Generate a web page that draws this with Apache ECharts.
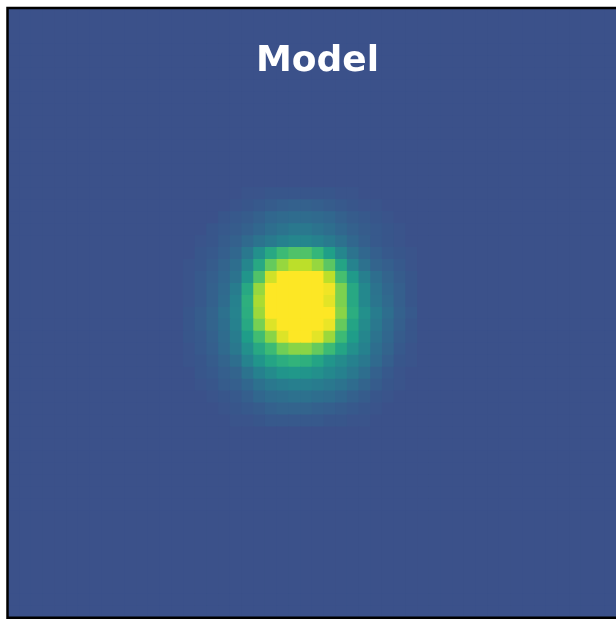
<!DOCTYPE html>
<html>
<head>
<meta charset="utf-8">
<script src="https://cdn.jsdelivr.net/npm/echarts@6/dist/echarts.min.js"></script>
<style>
  html, body { margin: 0; padding: 0; background: #ffffff; }
  #chart { width: 616px; height: 619px; }
</style>
</head>
<body>
<div id="chart"></div>
<script>
// Image size in pixels (columns x rows) and the uniform sky level
const nCols = 52;
const nRows = 51;
const skyLevel = 0.25;

// Central patch of the model image, rows 15..34 and columns 15..34,
// as normalised intensity on the colour scale (1 = top of scale, saturated)
const patchRow0 = 15;
const patchCol0 = 15;
const patchRows = [
  [.25,.25,.25,.25, .25,.26,.26,.27,.27,.27, .27,.27,.27,.26,.26,.25, .25,.25,.25,.25],
  [.25,.25,.25,.25, .26,.27,.28,.29,.30,.31, .31,.30,.29,.28,.27,.26, .26,.25,.25,.25],
  [.25,.25,.25,.27, .28,.29,.31,.33,.34,.35, .35,.34,.33,.31,.29,.28, .27,.26,.25,.25],
  [.25,.25,.27,.28, .29,.31,.33,.36,.38,.40, .40,.38,.36,.33,.31,.29, .28,.27,.26,.25],
  [.25,.26,.27,.29, .31,.34,.38,.41,.44,.46, .46,.44,.41,.37,.33,.30, .28,.27,.26,.25],
  [.25,.27,.28,.30, .33,.40,.50,.60,.68,.72, .72,.66,.56,.46,.38,.33, .30,.28,.27,.26],
  [.26,.27,.29,.32, .36,.46,.60,.76,.84,.90, .90,.84,.74,.58,.45,.37, .32,.30,.28,.26],
  [.26,.28,.30,.33, .38,.52,.72,.93,1.0,1.0, 1.0,1.0,.90,.70,.54,.43, .36,.32,.29,.27],
  [.26,.28,.31,.34, .42,.60,.84,1.0,1.0,1.0, 1.0,1.0,.98,.80,.60,.47, .38,.33,.30,.27],
  [.26,.28,.31,.35, .44,.63,.87,1.0,1.0,1.0, 1.0,1.0,.96,.80,.60,.47, .39,.34,.30,.27],
  [.27,.29,.32,.37, .45,.62,.85,1.0,1.0,1.0, 1.0,1.0,1.0,.82,.62,.50, .42,.36,.31,.28],
  [.27,.29,.32,.36, .44,.60,.79,.95,1.0,1.0, 1.0,1.0,.97,.76,.58,.48, .40,.34,.30,.27],
  [.27,.28,.31,.35, .42,.55,.69,.82,.95,1.0, 1.0,.96,.85,.68,.55,.46, .38,.33,.29,.27],
  [.26,.28,.30,.34, .40,.50,.60,.68,.78,.82, .82,.76,.68,.58,.50,.44, .36,.32,.28,.26],
  [.26,.27,.29,.32, .36,.45,.52,.58,.62,.65, .63,.58,.52,.48,.44,.40, .34,.30,.27,.26],
  [.25,.27,.28,.30, .32,.38,.44,.48,.52,.53, .52,.50,.47,.44,.40,.36, .31,.28,.26,.25],
  [.25,.26,.27,.29, .30,.33,.37,.40,.42,.43, .43,.42,.40,.38,.35,.32, .29,.27,.26,.25],
  [.25,.25,.26,.27, .28,.30,.33,.35,.36,.37, .37,.36,.35,.33,.31,.29, .27,.26,.25,.25],
  [.25,.25,.25,.26, .27,.28,.29,.31,.32,.32, .32,.31,.30,.29,.28,.27, .26,.25,.25,.25],
  [.25,.25,.25,.25, .26,.26,.27,.28,.28,.28, .28,.28,.27,.27,.26,.26, .25,.25,.25,.25]
];

// Viridis colour stops
const viridis = [
  '#440154', '#482878', '#3e4989', '#31688e', '#26828e',
  '#1f9e89', '#35b779', '#6ece58', '#b5de2b', '#fde725'
];

const titleText = 'Model';

// Image frame
const imgLeft = 7.5;
const imgTop = 8;
const imgWidth = 620;
const imgHeight = 609.75;

const xCats = Array.from({ length: nCols }, (_, i) => String(i));
const yCats = Array.from({ length: nRows }, (_, i) => String(i));

const cells = [];
for (let r = 0; r < nRows; r++) {
  for (let c = 0; c < nCols; c++) {
    const pr = r - patchRow0;
    const pc = c - patchCol0;
    let v = skyLevel;
    if (pr >= 0 && pr < patchRows.length && pc >= 0 && pc < patchRows[pr].length) {
      v = patchRows[pr][pc];
    }
    cells.push([c, r, v]);
  }
}

// One filled square per image pixel. Each square reaches one screen pixel
// past its right and lower edges so the next square overlaps it and no
// background shows through the anti-aliased seams.
const seamOverlap = 1;
function renderPixel(params, api) {
  const centre = api.coord([api.value(0), api.value(1)]);
  const size = api.size([1, 1]);
  return {
    type: 'rect',
    shape: {
      x: centre[0] - size[0] / 2,
      y: centre[1] - size[1] / 2,
      width: size[0] + seamOverlap,
      height: size[1] + seamOverlap
    },
    style: { fill: api.visual('color') }
  };
}

const chart = echarts.init(document.getElementById('chart'), null, { renderer: 'canvas' });
chart.setOption({
  animation: false,
  backgroundColor: '#ffffff',
  grid: {
    left: imgLeft, top: imgTop, width: imgWidth, height: imgHeight,
    containLabel: false, show: false
  },
  xAxis: { type: 'category', data: xCats, show: false, boundaryGap: true },
  yAxis: { type: 'category', data: yCats, show: false, inverse: true, boundaryGap: true },
  visualMap: {
    show: false, type: 'continuous', min: 0, max: 1, dimension: 2,
    inRange: { color: viridis }
  },
  series: [{
    type: 'custom',
    data: cells,
    renderItem: renderPixel,
    progressive: 0,
    silent: true,
    clip: true
  }],
  graphic: [
    {
      type: 'rect', z: 100, silent: true,
      shape: { x: imgLeft, y: imgTop, width: imgWidth, height: imgHeight },
      style: { fill: 'none', stroke: '#000000', lineWidth: 2.5 }
    },
    {
      type: 'text', z: 101, silent: true,
      x: imgLeft + imgWidth / 2, y: 62,
      style: {
        text: titleText, fill: '#ffffff',
        font: 'bold 36px "DejaVu Sans"',
        textAlign: 'center', textVerticalAlign: 'middle'
      }
    }
  ]
});
</script>
</body>
</html>
